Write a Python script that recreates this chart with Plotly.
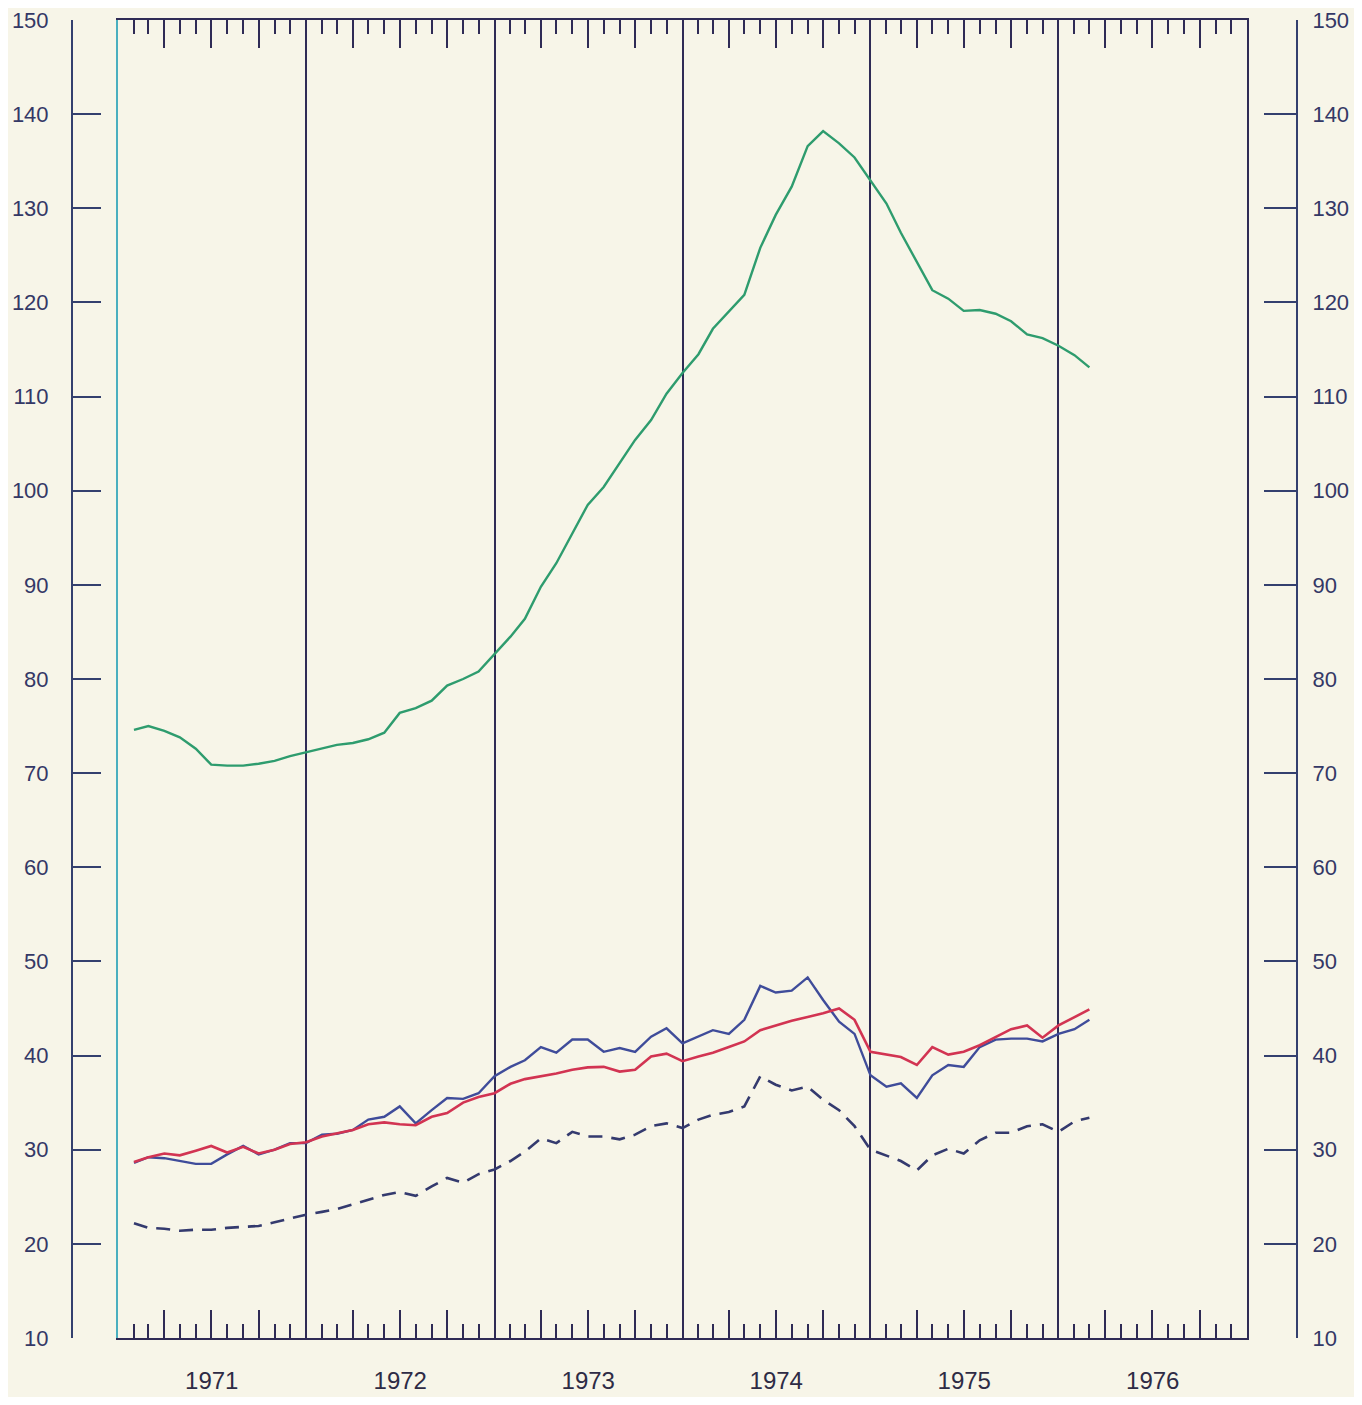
import plotly.graph_objects as go
import pandas as pd

# ---- data (monthly, Feb 1971 - Mar 1976) ----
dates = pd.date_range("1971-02-01", periods=62, freq="MS")

green = [74.6, 75.0, 74.5, 73.8, 72.6, 70.9, 70.8, 70.8, 71.0, 71.3, 71.8, 72.2,
         72.6, 73.0, 73.2, 73.6, 74.3, 76.4, 76.9, 77.7, 79.3, 80.0, 80.8, 82.7,
         84.5, 86.4, 89.8, 92.3, 95.4, 98.5, 100.4, 103.0, 105.4, 107.5, 110.3, 112.5,
         114.5, 117.2, 119.0, 120.8, 125.8, 129.3, 132.3, 136.6, 138.2, 136.9, 135.4, 133.0,
         130.5, 127.4, 124.3, 121.3, 120.4, 119.1, 119.2, 118.8, 118.0, 116.6, 116.2, 115.4,
         114.4, 113.1]

red = [28.7, 29.2, 29.6, 29.4, 29.9, 30.4, 29.7, 30.3, 29.6, 30.0, 30.6, 30.8,
       31.4, 31.7, 32.1, 32.7, 32.9, 32.7, 32.6, 33.5, 33.9, 35.0, 35.6, 36.0,
       37.0, 37.5, 37.8, 38.1, 38.5, 38.75, 38.8, 38.3, 38.5, 39.9, 40.2, 39.4,
       39.9, 40.3, 40.9, 41.5, 42.7, 43.2, 43.7, 44.1, 44.5, 45.0, 43.8, 40.4,
       40.1, 39.85, 39.0, 40.9, 40.1, 40.4, 41.1, 42.0, 42.8, 43.2, 41.9, 43.2,
       44.1, 44.9]

blue = [28.6, 29.2, 29.1, 28.8, 28.5, 28.5, 29.5, 30.4, 29.5, 30.0, 30.7, 30.7,
        31.6, 31.7, 32.1, 33.2, 33.5, 34.6, 32.8, 34.2, 35.5, 35.4, 36.0, 37.8,
        38.8, 39.5, 40.9, 40.3, 41.7, 41.7, 40.4, 40.8, 40.4, 42.0, 42.9, 41.3,
        42.0, 42.7, 42.3, 43.8, 47.4, 46.7, 46.9, 48.3, 45.9, 43.6, 42.3, 37.9,
        36.7, 37.05, 35.5, 37.9, 39.0, 38.8, 40.9, 41.7, 41.8, 41.8, 41.5, 42.3,
        42.8, 43.8]

dashed = [22.2, 21.7, 21.6, 21.4, 21.5, 21.5, 21.7, 21.8, 21.9, 22.3, 22.7, 23.1,
          23.4, 23.7, 24.2, 24.7, 25.2, 25.5, 25.1, 26.1, 27.0, 26.5, 27.4, 27.9,
          28.8, 29.8, 31.2, 30.7, 31.9, 31.4, 31.4, 31.1, 31.6, 32.5, 32.8, 32.3,
          33.2, 33.7, 34.0, 34.6, 37.8, 36.9, 36.3, 36.7, 35.3, 34.2, 32.5, 30.0,
          29.4, 28.8, 27.8, 29.4, 30.1, 29.6, 31.0, 31.8, 31.8, 32.5, 32.7, 31.9,
          33.0, 33.4]

year_labels = ["1971", "1972", "1973", "1974", "1975", "1976"]
year_label_pos = ["1971-07-02", "1972-07-02", "1973-07-02", "1974-07-02", "1975-07-02", "1976-07-02"]
year_lines = ["1972-01-01", "1973-01-01", "1974-01-01", "1975-01-01", "1976-01-01"]
x_range = ["1971-01-01", "1977-01-01"]
y_range = [10, 150]

# ---- styling ----
BG = "#F7F5E8"
NAVY = "#2F2B55"
AXIS_BLUE = "#34406E"
TEAL = "#4AAFBF"
FONT = "Liberation Sans"

# page has an 8px body margin; figure sized to fit the window
OFF = 8
W, H = 1362 - 2 * OFF, 1405 - 2 * OFF
ML, MR, MT, MB = 52, 50, 20 - OFF, H - (1338 - OFF)
pw = W - ML - MR
dom = [(118 - OFF - ML) / pw, (1247 - OFF - ML) / pw]
pos_left = (72 - OFF - ML) / pw
pos_right = (1297 - OFF - ML) / pw

fig = go.Figure()
fig.add_trace(go.Scatter(x=dates, y=green, mode="lines",
                         line=dict(color="#2E9C6E", width=2.4), showlegend=False))
fig.add_trace(go.Scatter(x=dates, y=dashed, mode="lines",
                         line=dict(color="#343A6E", width=2.6, dash="14px,9px"), showlegend=False))
fig.add_trace(go.Scatter(x=dates, y=blue, mode="lines",
                         line=dict(color="#3F4C9A", width=2.4), showlegend=False))
fig.add_trace(go.Scatter(x=dates, y=red, mode="lines",
                         line=dict(color="#D23452", width=2.6), showlegend=False))

# invisible helper traces so the overlay axes get drawn
for xa, ya in [("x2", "y"), ("x3", "y"), ("x", "y2"), ("x", "y3"), ("x", "y4")]:
    fig.add_trace(go.Scatter(x=x_range, y=y_range, mode="markers",
                             marker=dict(opacity=0, size=1), hoverinfo="skip",
                             showlegend=False, xaxis=xa, yaxis=ya))

fig.update_layout(
    width=W, height=H,
    margin=dict(l=ML, r=MR, t=MT, b=MB, autoexpand=False),
    paper_bgcolor=BG, plot_bgcolor=BG,
    font=dict(family=FONT, color=NAVY),
    xaxis=dict(
        type="date", domain=dom, range=x_range, automargin=False,
        showline=True, linecolor=NAVY, linewidth=2, mirror="ticks",
        ticks="inside", ticklen=28, tickwidth=2, tickcolor=NAVY,
        tick0="1971-01-01", dtick="M3", showticklabels=False,
        showgrid=False, zeroline=False,
        minor=dict(ticks="inside", ticklen=14, tickwidth=2, tickcolor=NAVY,
                   tick0="1971-01-01", dtick="M1", showgrid=False),
    ),
    xaxis2=dict(
        type="date", overlaying="x", anchor="y", domain=dom, range=x_range, automargin=False,
        tickmode="array", tickvals=year_label_pos, ticktext=year_labels,
        ticks="", ticklabelstandoff=26, ticklabeloverflow="allow",
        showline=False, showgrid=False, zeroline=False,
        tickfont=dict(size=24, color="#2E2B45", family=FONT),
    ),
    xaxis3=dict(
        type="date", overlaying="x", anchor="y", domain=dom, range=x_range, automargin=False,
        tickmode="array", tickvals=year_lines, showticklabels=False, ticks="",
        showgrid=True, gridcolor=NAVY, gridwidth=2, showline=False, zeroline=False,
    ),
    yaxis=dict(
        range=y_range, anchor="x", showline=True, linecolor=TEAL, linewidth=2, automargin=False,
        mirror=False, ticks="", showticklabels=False, showgrid=False, zeroline=False,
    ),
    yaxis2=dict(
        range=y_range, overlaying="y", anchor="free", position=pos_left, side="left",
        automargin=False, ticklabeloverflow="allow",
        tick0=10, dtick=10, ticks="inside", ticklen=28, tickwidth=2, tickcolor=AXIS_BLUE,
        showline=True, linecolor=AXIS_BLUE, linewidth=2, showgrid=False, zeroline=False,
        ticklabelstandoff=18, tickfont=dict(size=22, color="#343866", family=FONT),
    ),
    yaxis3=dict(
        range=y_range, overlaying="y", anchor="free", position=pos_right, side="right",
        automargin=False, ticklabeloverflow="allow",
        tick0=10, dtick=10, ticks="inside", ticklen=32, tickwidth=2, tickcolor=AXIS_BLUE,
        showline=True, linecolor=AXIS_BLUE, linewidth=2, showgrid=False, zeroline=False,
        ticklabelstandoff=10, tickfont=dict(size=22, color="#343866", family=FONT),
    ),
    yaxis4=dict(
        range=y_range, overlaying="y", anchor="x", side="right", automargin=False,
        showline=True, linecolor=NAVY, linewidth=2, ticks="", showticklabels=False,
        showgrid=False, zeroline=False,
    ),
)

fig.write_html("out.html")
